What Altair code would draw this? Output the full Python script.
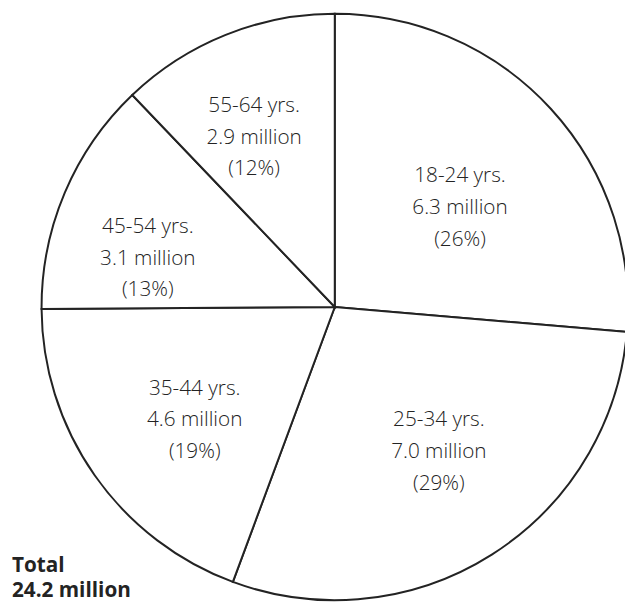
import altair as alt
import pandas as pd

# ---- data ----
age_groups = ["18-24 yrs.", "25-34 yrs.", "35-44 yrs.", "45-54 yrs.", "55-64 yrs."]
millions = [6.3, 7.0, 4.6, 3.1, 2.9]
percents = [26, 29, 19, 13, 12]
total_lines = ["Total", "24.2 million"]

df = pd.DataFrame({
    "group": age_groups,
    "value": millions,
    "pct": percents,
    "order": list(range(len(age_groups))),
})
df["label"] = [f"{g}\n{v:.1f} million\n({p}%)" for g, v, p in zip(age_groups, millions, percents)]

# ---- layout / style ----
W, H = 625, 599
CX, CY = 331, 299
R = 297
FONT = "Open Sans"
INK = "#232323"
LH = 32  # line height of the slice labels

# label placement: (radius from centre, dx, dy) -- dy measured to the middle line
label_layout = {
    "18-24 yrs.": (160, 9, 8),
    "25-34 yrs.": (180, 9, -5),
    "35-44 yrs.": (183, 8, 10),
    "45-54 yrs.": (197, -8, 28),
    "55-64 yrs.": (190, -11, 5),
}

theta = alt.Theta("value:Q", stack=True)
order = alt.Order("order:Q", sort="ascending")
base = alt.Chart(df)

pie = base.mark_arc(
    x=CX, y=CY, outerRadius=R, fill="white", stroke=INK, strokeWidth=2
).encode(theta=theta, order=order, detail="group:N")

layers = [pie]
for g, (r, dx, dy) in label_layout.items():
    layers.append(
        base.transform_calculate(txt=f"datum.group === '{g}' ? datum.label : ''")
        .mark_text(
            x=CX, y=CY, radius=r, dx=dx, dy=dy - LH, lineBreak="\n", lineHeight=LH,
            font=FONT, fontSize=21, fontWeight=300, color=INK,
            align="center", baseline="middle",
        )
        .encode(theta=theta, order=order, detail="group:N", text="txt:N")
    )

total = alt.Chart(pd.DataFrame({"t": ["\n".join(total_lines)]})).mark_text(
    x=4, y=561, align="left", baseline="middle", lineBreak="\n", lineHeight=26,
    font=FONT, fontSize=21, fontWeight="bold", color=INK,
).encode(text="t:N")
layers.append(total)

chart = alt.layer(*layers).properties(
    width=W, height=H,
    autosize=alt.AutoSizeParams(type="none"),
    padding=0,
    background="white",
).configure_view(stroke=None)

chart.save("out.html", embed_options={"renderer": "svg", "actions": False})
